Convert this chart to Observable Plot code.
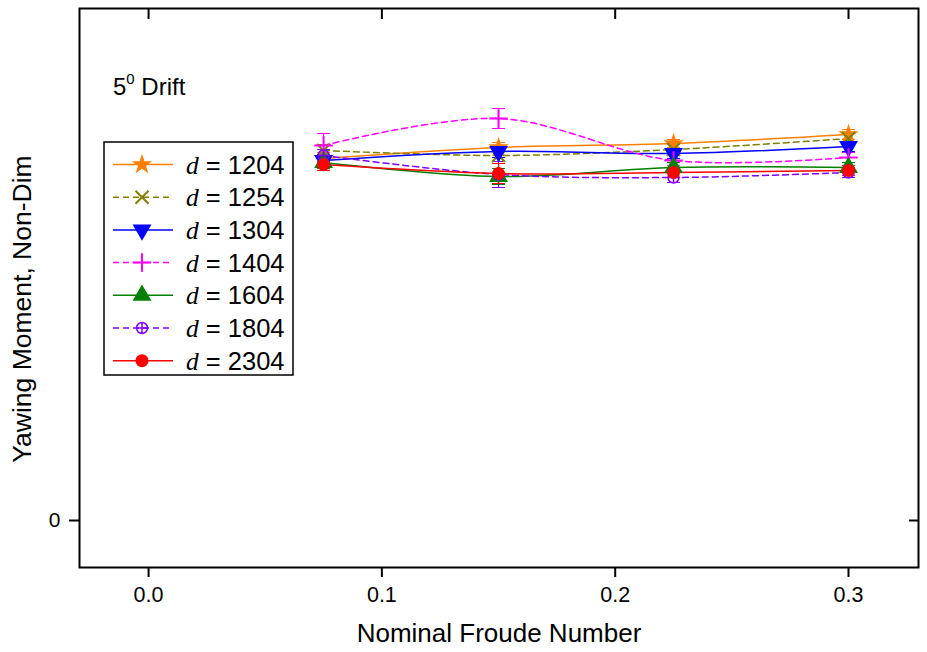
<!DOCTYPE html>
<html><head><meta charset="utf-8">
<script src="https://cdn.jsdelivr.net/npm/d3@7"></script>
<script src="https://cdn.jsdelivr.net/npm/@observablehq/plot@0.6"></script>
<style>
body{margin:0;background:#fff;}
#wrap{position:relative;width:927px;height:652px;font-family:"Liberation Sans",Arial,sans-serif;}
#legend{position:absolute;left:0;top:0;}
</style></head><body><div id="wrap"><div id="note" style="position:absolute;left:113px;top:73px;font-size:24px;line-height:28px;color:#000;font-family:'Liberation Sans',Arial,sans-serif;">5<span style="font-size:15px;position:relative;top:-11px;">0</span> Drift</div></div>
<script>
// ---- data ----
const froude = [0.075, 0.15, 0.225, 0.3];
const xTicks = [0.0, 0.1, 0.2, 0.3];
const yTicks = [0];
const seriesNames = ["1204", "1254", "1304", "1404", "1604", "1804", "2304"];
const d1204 = [3.62, 3.73, 3.77, 3.86];
const d1254 = [3.70, 3.65, 3.71, 3.82];
const d1304 = [3.60, 3.69, 3.67, 3.74];
const d1404 = [3.75, 4.02, 3.60, 3.63];
const d1604 = [3.58, 3.44, 3.53, 3.53];
const d1804 = [3.65, 3.46, 3.43, 3.48];
const d2304 = [3.56, 3.47, 3.48, 3.50];
const e1204 = [0.06, 0.05, 0.04, 0.05];
const e1254 = [0.06, 0.06, 0.05, 0.05];
const e1304 = [0.06, 0.06, 0.05, 0.05];
const e1404 = [0.12, 0.10, 0.05, 0.05];
const e1604 = [0.06, 0.08, 0.05, 0.05];
const e1804 = [0.06, 0.13, 0.05, 0.05];
const e2304 = [0.06, 0.10, 0.05, 0.05];

// ---- styles ----
const seriesValues = [d1204, d1254, d1304, d1404, d1604, d1804, d2304];
const seriesErrors = [e1204, e1254, e1304, e1404, e1604, e1804, e2304];
const colors = ["#FF8000", "#808000", "#0000FF", "#FF00FF", "#008000", "#8000FF", "#FF0000"];
const dashes = [null, "6,4", null, "6,4", null, "6,4", null];

const circlePlus = {draw(ctx, size) {
  const r = Math.sqrt(size / Math.PI);
  ctx.moveTo(r, 0); ctx.arc(0, 0, r, 0, 2 * Math.PI);
  ctx.moveTo(-r, 0); ctx.lineTo(r, 0); ctx.moveTo(0, -r); ctx.lineTo(0, r);
}};
const markerStyles = [
  {symbol: "star", fill: colors[0], r: 6.5},
  {symbol: "times", stroke: colors[1], fill: "none", strokeWidth: 2, r: 6},
  {symbol: "triangle", fill: colors[2], r: 7, rotate: 180},
  {symbol: "plus", stroke: colors[3], fill: "none", strokeWidth: 2, r: 6},
  {symbol: "triangle", fill: colors[4], r: 7},
  {symbol: circlePlus, stroke: colors[5], fill: "none", strokeWidth: 1.5, r: 5.5},
  {symbol: "circle", fill: colors[6], r: 6.5}
];

const rows = [];
seriesNames.forEach((s, i) => froude.forEach((x, j) => rows.push({s, i, x, y: seriesValues[i][j], e: seriesErrors[i][j]})));

const capShape = {draw(ctx, l) { ctx.moveTo(0, 0); ctx.lineTo(0, -l); }};

const marks = [];
seriesNames.forEach((s, i) => {
  const d = rows.filter(r => r.s === s);
  marks.push(Plot.line(d, {x: "x", y: "y", stroke: colors[i], strokeWidth: 1.5, strokeDasharray: dashes[i], curve: "catmull-rom"}));
});
seriesNames.forEach((s, i) => {
  const d = rows.filter(r => r.s === s);
  marks.push(Plot.ruleX(d, {x: "x", y1: r => r.y - r.e, y2: r => r.y + r.e, stroke: colors[i], strokeWidth: 1.2}));
  marks.push(Plot.vector(d, {x: "x", y: r => r.y - r.e, length: 12, rotate: 90, anchor: "middle", shape: capShape, stroke: colors[i], strokeWidth: 1.2}));
  marks.push(Plot.vector(d, {x: "x", y: r => r.y + r.e, length: 12, rotate: 90, anchor: "middle", shape: capShape, stroke: colors[i], strokeWidth: 1.2}));
});
seriesNames.forEach((s, i) => {
  const d = rows.filter(r => r.s === s);
  marks.push(Plot.dot(d, {x: "x", y: "y", ...markerStyles[i]}));
});

const fmtX = d3.format(".1f");
const noLabel = () => "";
const chart = Plot.plot({
  width: 927, height: 652,
  marginLeft: 79, marginRight: 9, marginTop: 8, marginBottom: 85,
  style: {fontFamily: "'Liberation Sans', Arial, sans-serif", fontSize: "21px", color: "#000", background: "#fff"},
  x: {domain: [-0.0296, 0.330]},
  y: {domain: [-0.47, 5.12]},
  marks: [
    ...marks,
    Plot.axisX({anchor: "bottom", ticks: xTicks, tickFormat: noLabel, tickSize: 10, strokeWidth: 2, label: null}),
    Plot.text(xTicks, {x: d => d, frameAnchor: "bottom", dy: 34.5, text: d => fmtX(d), fontSize: 21.5, fill: "#000", textAnchor: "middle"}),
    Plot.axisX({anchor: "top", ticks: xTicks, tickSize: -10, tickFormat: noLabel, strokeWidth: 2, label: null}),
    Plot.axisY({anchor: "left", ticks: yTicks, tickFormat: noLabel, tickSize: 10, strokeWidth: 2, label: null}),
    Plot.text(yTicks, {y: d => d, frameAnchor: "left", dx: -19, text: d => String(d), fontSize: 21, fill: "#000", textAnchor: "end"}),
    Plot.axisY({anchor: "right", ticks: yTicks, tickSize: -10, tickFormat: noLabel, strokeWidth: 2, label: null}),
    Plot.frame({stroke: "#000", strokeWidth: 2}),
    Plot.text(["Nominal Froude Number"], {frameAnchor: "bottom", textAnchor: "middle", dy: 74, fontSize: 26, fill: "#000"}),
    Plot.text(["Yawing Moment, Non-Dim"], {frameAnchor: "left", textAnchor: "middle", dx: -57, dy: 21, rotate: -90, fontSize: 26.5, fill: "#000"})
  ]
});
const wrap = document.getElementById("wrap");
wrap.insertBefore(chart, wrap.firstChild);

// ---- legend (overlay inside the frame) ----
const lg = d3.select(wrap).append("svg").attr("id", "legend").attr("width", 927).attr("height", 652);
lg.append("rect").attr("x", 104).attr("y", 142).attr("width", 189).attr("height", 233)
  .attr("fill", "#fff").attr("stroke", "#000").attr("stroke-width", 1.5);
const symMap = {star: d3.symbolStar, times: d3.symbolTimes, triangle: d3.symbolTriangle, plus: d3.symbolPlus, circle: d3.symbolCircle};
seriesNames.forEach((s, i) => {
  const cy = 164.5 + i * 32.7;
  const g = lg.append("g");
  g.append("line").attr("x1", 113).attr("x2", 173).attr("y1", cy).attr("y2", cy)
    .attr("stroke", colors[i]).attr("stroke-width", 1.5).attr("stroke-dasharray", dashes[i]);
  const ms = markerStyles[i];
  const sym = typeof ms.symbol === "string" ? symMap[ms.symbol] : ms.symbol;
  g.append("path").attr("d", d3.symbol(sym, Math.PI * ms.r * ms.r)())
    .attr("transform", `translate(142,${cy}) rotate(${ms.rotate || 0})`)
    .attr("fill", ms.fill || "none").attr("stroke", ms.stroke || "none").attr("stroke-width", ms.strokeWidth || 0);
  const t = g.append("text").attr("x", 186).attr("y", cy + 9).attr("font-size", 25.5).attr("fill", "#000");
  t.append("tspan").attr("font-family", "'Liberation Serif', 'Times New Roman', serif").attr("font-style", "italic").text("d");
  t.append("tspan").attr("font-family", "'Liberation Sans', Arial, sans-serif").text(" = " + s);
});
</script></body></html>
